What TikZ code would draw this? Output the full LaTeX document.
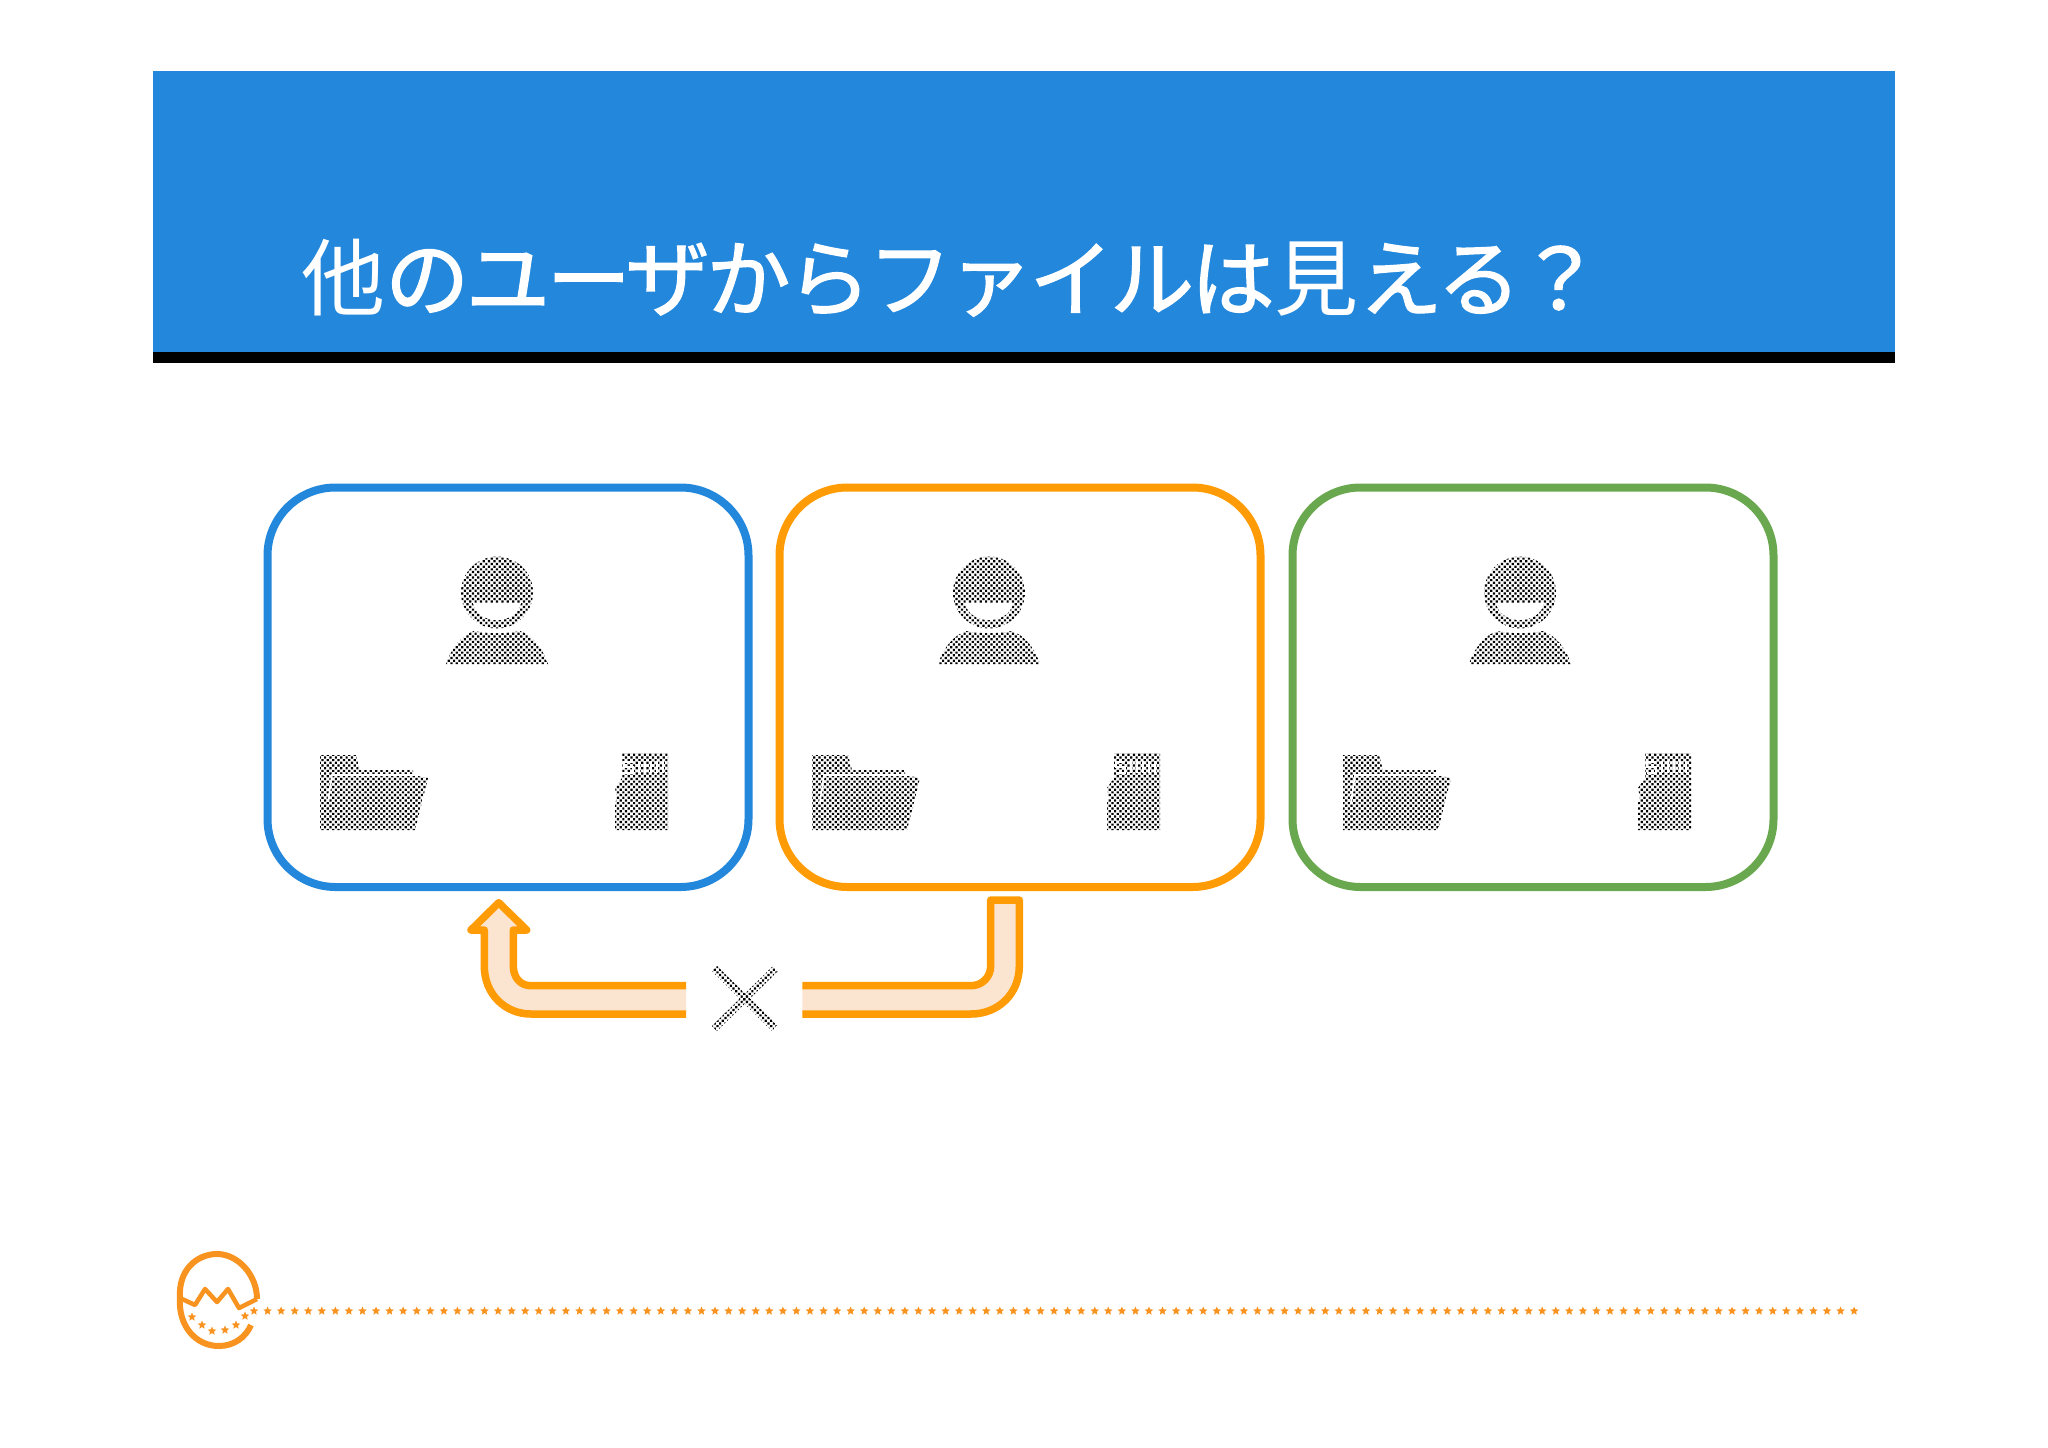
\documentclass[tikz,border=0pt]{standalone}
\usepackage{fontspec}
\newfontfamily\cjk[LetterSpace=-3.9]{Noto Sans CJK JP}
\newfontfamily\cjkb[FakeBold=1.6,LetterSpace=-3.9]{Noto Sans CJK JP}
\usetikzlibrary{patterns.meta,shapes.geometric}
\definecolor{bannerblue}{HTML}{2387DC}
\definecolor{boxorange}{HTML}{FF9C05}
\definecolor{boxgreen}{HTML}{6AA84F}
\definecolor{arrowfill}{HTML}{FBE5D0}
\definecolor{logoorange}{HTML}{F7931E}
\tikzset{
  x=1pt,y=-1pt,
  roundbox/.style={line width=8pt,fill=white},
  halftone/.style={pattern={Dots[distance=3.8pt,radius=1.55pt,angle=45]},pattern color=black},
  arrowline/.style={draw=boxorange,line width=7.5pt,line join=round},
  logoline/.style={draw=logoorange,line width=6pt,line join=round},
  tinystar/.style={star,star points=5,star point ratio=2.2,fill=logoorange,inner sep=0pt,minimum size=9pt},
  person/.pic={
    \fill[halftone] (0,-34.5) circle[radius=36];
    \fill[white] (-24,-24) -- (24,-24) .. controls (22,-13) and (11,-7) .. (0,-7) .. controls (-11,-7) and (-22,-13) .. (-24,-24) -- cycle;
    \fill[halftone] (-51,37) .. controls (-45,20) and (-36,9) .. (-23,4) .. controls (-8,7) and (8,7) .. (23,4) .. controls (36,9) and (45,20) .. (51,37) -- cycle;
  },
  folder/.pic={
    \fill[halftone] (0,0) -- (36,0) -- (40,15) -- (93,15) -- (93,20) -- (108,23) -- (95,75) -- (0,75) -- cycle;
    \draw[white,line width=1.6pt] (8,47) -- (12,20) -- (108,20);
  },
  sdcard/.pic={
    \fill[halftone] (7,0) -- (53,0) -- (53,77) -- (0,77) -- (0,50) -- (2,45) -- (0,35) -- (7,25) -- cycle;
    \draw[white,line width=2.2pt] (18,9) -- (9,9) -- (9,14) -- (18,14) -- (18,20) -- (9,20);
    \foreach \q in {24,30,36,42,48}{\draw[white,line width=1.8pt] (\q,8) -- (\q,20);}
  }
}
\begin{document}
\begin{tikzpicture}
\useasboundingbox (0,0) rectangle (2048,1448);
\fill[white] (0,0) rectangle (2048,1448);
% banner
\fill[bannerblue] (153,71) rectangle (1895,352);
\fill[black] (153,352) rectangle (1895,363);
\node[anchor=west,text=white,inner sep=0pt,font=\cjkb\fontsize{84}{84}\selectfont] (title) at (301,278) {{\cjk 他}のユーザからファイルは{\cjk 見}える？};
% boxes
\draw[roundbox,draw=bannerblue,rounded corners=68pt] (267.5,487.5) rectangle (748.5,887);
\draw[roundbox,draw=boxorange,rounded corners=68pt] (779.5,487.5) rectangle (1260.5,887);
\draw[roundbox,draw=boxgreen,rounded corners=68pt] (1292.5,487.5) rectangle (1773.5,887);
% icons
\foreach \dx in {0,492,1023}{
  \pic at (497+\dx,627) {person};
  \pic at (320+\dx,755) {folder};
  \pic at (615+\dx,753) {sdcard};
}
% arrow, left part
\fill[arrowfill] (686,985.7) -- (531,985.7) .. controls (520,985.7) and (513.3,977) .. (513.3,966) -- (513.3,930) -- (526.7,930) -- (498.7,902.7) -- (471,930) -- (484.3,930) -- (484.3,966) .. controls (484.3,994) and (505,1014) .. (531,1014) -- (686,1014) -- cycle;
\draw[arrowline] (686,985.7) -- (531,985.7) .. controls (520,985.7) and (513.3,977) .. (513.3,966) -- (513.3,930) -- (526.7,930) -- (498.7,902.7) -- (471,930) -- (484.3,930) -- (484.3,966) .. controls (484.3,994) and (505,1014) .. (531,1014) -- (686,1014);
% arrow, right part
\fill[arrowfill] (802.3,985.7) -- (971,985.7) .. controls (982,985.7) and (990.7,977) .. (990.7,966) -- (990.7,900) -- (1019.3,900) -- (1019.3,966) .. controls (1019.3,994) and (998,1014) .. (971,1014) -- (802.3,1014) -- cycle;
\draw[arrowline] (802.3,985.7) -- (971,985.7) .. controls (982,985.7) and (990.7,977) .. (990.7,966) -- (990.7,900) -- (1019.3,900) -- (1019.3,966) .. controls (1019.3,994) and (998,1014) .. (971,1014) -- (802.3,1014);
% cross
\fill[halftone] (712,971) -- (717,966) -- (777,1025) -- (772,1031) -- cycle;
\fill[halftone] (773,966) -- (778,971) -- (717,1031) -- (712,1026) -- cycle;
% logo
\draw[logoline] (180,1298) .. controls (178,1270) and (197,1254) .. (217,1254) .. controls (238,1254) and (257,1275) .. (257,1299);
\draw[logoline,line width=4.5pt] (180,1298) -- (195,1305) -- (205,1289) -- (217,1302) -- (228,1289) -- (239,1308) -- (257,1299);
\draw[logoline] (180,1298) .. controls (178,1325) and (195,1346) .. (219,1346) .. controls (234,1346) and (246,1337) .. (251,1325);
\foreach \sx/\sy in {192/1317,202/1325,212/1331,225/1330,236/1325,245/1316}{
  \node[tinystar] at (\sx,\sy) {};
}
\foreach \k in {0,...,118}{
  \node[tinystar] at ({254+\k*13.56},1311) {};
}
\end{tikzpicture}
\end{document}
